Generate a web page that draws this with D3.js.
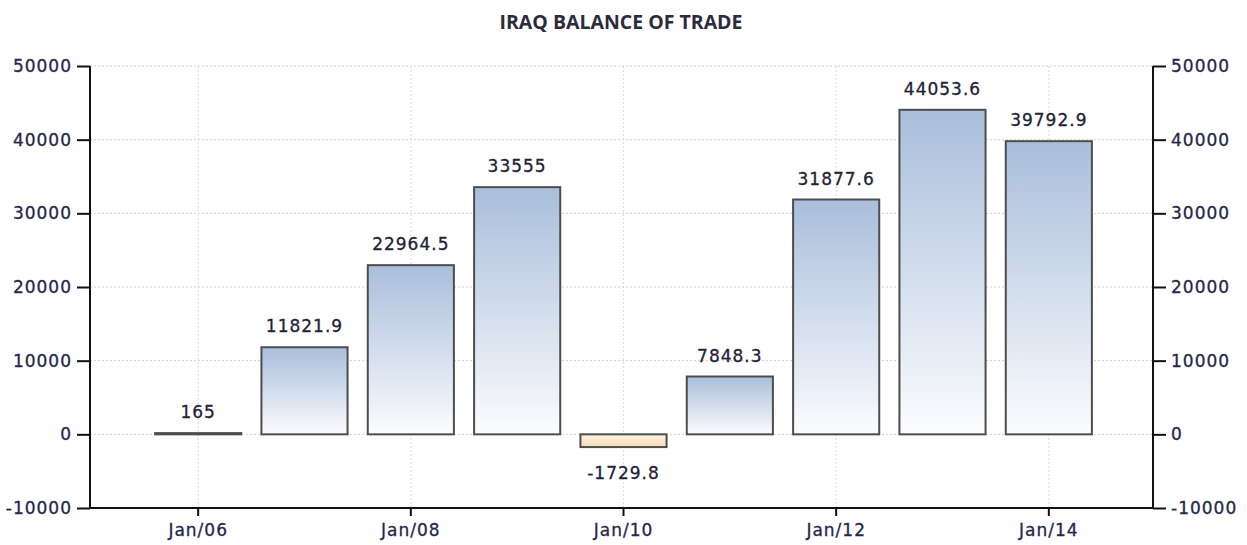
<!DOCTYPE html>
<html>
<head>
<meta charset="utf-8">
<script src="https://cdn.jsdelivr.net/npm/d3@7"></script>
<style>
body { margin: 0; background: #fff; }
text { font-family: "DejaVu Sans", sans-serif; }
</style>
</head>
<body>
<div id="chart"></div>
<script>
const years = ["2006", "2007", "2008", "2009", "2010", "2011", "2012", "2013", "2014"];
const values = [165, 11821.9, 22964.5, 33555, -1729.8, 7848.3, 31877.6, 44053.6, 39792.9];
const labels = ["165", "11821.9", "22964.5", "33555", "-1729.8", "7848.3", "31877.6", "44053.6", "39792.9"];
const tickYears = ["2006", "2008", "2010", "2012", "2014"];
const tickLabels = ["Jan/06", "Jan/08", "Jan/10", "Jan/12", "Jan/14"];
const yTicks = [-10000, 0, 10000, 20000, 30000, 40000, 50000];

const W = 1247, H = 545;
const plot = { left: 90, right: 1153, top: 66, bottom: 508 };

const svg = d3.select("#chart")
    .append("svg")
    .attr("width", W)
    .attr("height", H);

const defs = svg.append("defs");
const gPos = defs.append("linearGradient")
    .attr("id", "gpos").attr("x1", 0).attr("y1", 0).attr("x2", 0).attr("y2", 1);
gPos.append("stop").attr("offset", "0%").attr("stop-color", "#a9bedb");
gPos.append("stop").attr("offset", "100%").attr("stop-color", "#fbfcfe");
const gNeg = defs.append("linearGradient")
    .attr("id", "gneg").attr("x1", 0).attr("y1", 0).attr("x2", 0).attr("y2", 1);
gNeg.append("stop").attr("offset", "0%").attr("stop-color", "#fdf3e3");
gNeg.append("stop").attr("offset", "100%").attr("stop-color", "#f8dcb4");

const x = d3.scaleBand()
    .domain(years)
    .range([145, 1102])
    .paddingInner(0.19)
    .paddingOuter(0.095);

const y = d3.scaleLinear()
    .domain([-10000, 50000])
    .range([plot.bottom, plot.top]);

// title
svg.append("text")
    .attr("x", 621)
    .attr("y", 29)
    .attr("text-anchor", "middle")
    .style("font-family", "'Open Sans', sans-serif")
    .style("font-weight", "bold")
    .style("font-size", "19.5px")
    .attr("fill", "#2b2b3c")
    .text("IRAQ BALANCE OF TRADE");

// gridlines
const grid = svg.append("g");
grid.selectAll(".hg")
    .data(yTicks.filter(d => d > -10000))
    .join("line")
    .attr("x1", plot.left).attr("x2", plot.right)
    .attr("y1", d => y(d)).attr("y2", d => y(d))
    .attr("stroke", "#cfcfcf")
    .attr("stroke-dasharray", "2,2");
grid.selectAll(".vg")
    .data(tickYears)
    .join("line")
    .attr("x1", d => x(d) + x.bandwidth() / 2)
    .attr("x2", d => x(d) + x.bandwidth() / 2)
    .attr("y1", plot.top).attr("y2", plot.bottom)
    .attr("stroke", "#d8d8d8")
    .attr("stroke-dasharray", "2,2");

// bars
svg.selectAll(".bar")
    .data(values)
    .join("rect")
    .attr("x", (d, i) => x(years[i]))
    .attr("width", x.bandwidth())
    .attr("y", d => y(Math.max(0, d)))
    .attr("height", d => Math.max(1, Math.abs(y(d) - y(0))))
    .attr("fill", d => d < 0 ? "url(#gneg)" : "url(#gpos)")
    .attr("stroke", "#4d4d4d")
    .attr("stroke-width", 2);

// value labels
svg.selectAll(".lbl")
    .data(values)
    .join("text")
    .attr("x", (d, i) => x(years[i]) + x.bandwidth() / 2)
    .attr("y", d => d < 0 ? y(d) + 32 : y(d) - 15)
    .attr("text-anchor", "middle")
    .style("font-size", "17px")
    .style("letter-spacing", "1px")
    .attr("fill", "#222236")
    .attr("stroke", "#222236")
    .attr("stroke-width", 0.3)
    .text((d, i) => labels[i]);

// axes
const yLeft = d3.axisLeft(y).tickValues(yTicks).tickSize(13).tickPadding(5).tickFormat(d => String(d));
const yRight = d3.axisRight(y).tickValues(yTicks).tickSize(13).tickPadding(5).tickFormat(d => String(d));
const xAxis = d3.axisBottom(x).tickValues(tickYears).tickSize(8).tickPadding(8)
    .tickFormat(d => tickLabels[tickYears.indexOf(d)]);

function styleAxis(g) {
    g.select(".domain").remove();
    g.selectAll("line").attr("stroke", "#111").attr("stroke-width", 2);
    g.selectAll("text")
        .style("font-family", "'DejaVu Sans', sans-serif")
        .style("font-size", "17px")
        .style("letter-spacing", "1px")
        .attr("fill", "#26264a")
        .attr("stroke", "#26264a")
        .attr("stroke-width", 0.3);
}

svg.append("g").attr("transform", `translate(${plot.left},0)`).call(yLeft).call(styleAxis);
svg.append("g").attr("transform", `translate(${plot.right},0)`).call(yRight).call(styleAxis);
svg.append("g").attr("transform", `translate(0,${plot.bottom})`).call(xAxis).call(styleAxis);

// frame lines (left, right, bottom)
svg.append("path")
    .attr("d", `M${plot.left},${plot.top}V${plot.bottom}H${plot.right}V${plot.top}`)
    .attr("fill", "none")
    .attr("stroke", "#111")
    .attr("stroke-width", 2);
</script>
</body>
</html>
